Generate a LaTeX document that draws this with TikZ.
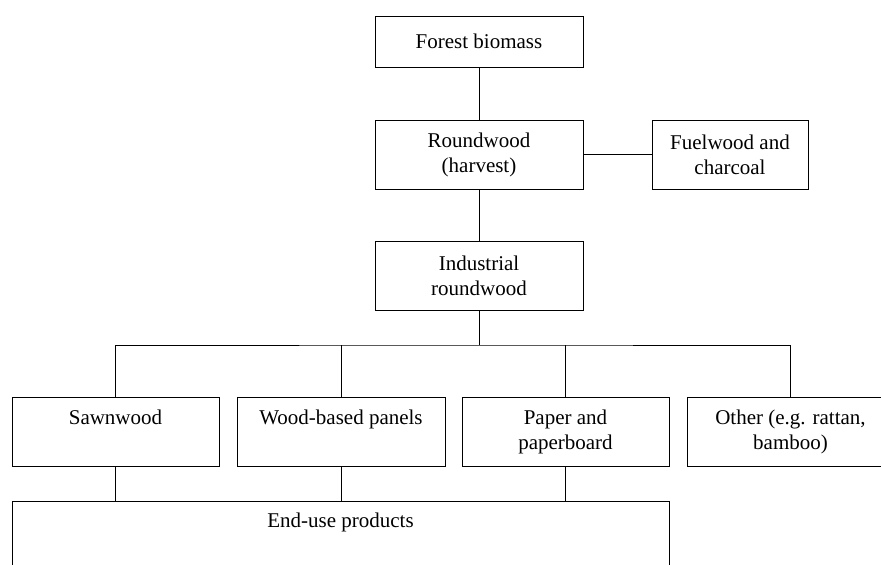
\documentclass[tikz,border=0pt]{standalone}
\usepackage{fontspec}
\setmainfont{Liberation Serif}
\begin{document}
\begin{tikzpicture}[x=1pt,y=-1pt,
  box/.style={draw,line width=1pt,rectangle,inner sep=0pt,minimum width=208pt,minimum height=69pt,align=center,font=\fontsize{21}{25}\selectfont},
  conn/.style={line width=1pt}]
\useasboundingbox (0,0) rectangle (881,565);
\clip (0,0) rectangle (881,565);
\node[box,minimum height=51pt] (fb) at (479,41.5) {Forest biomass};
\node[box] (rw) at (479,154.5) {Roundwood\\(harvest)};
\node[box,minimum width=156pt] (fw) at (730,154.5) {Fuelwood and\\charcoal};
\node[box] (ir) at (479,275.5) {Industrial\\roundwood};
\node[box,minimum width=207pt] (sw) at (115.5,431.5) {Sawnwood\\\vphantom{paperboard}};
\node[box] (wb) at (341,431.5) {Wood-based panels\\\vphantom{paperboard}};
\node[box,minimum width=207pt] (pp) at (565.5,431.5) {Paper and\\paperboard};
\node[box,minimum width=207pt] (ot) at (790.5,431.5) {Other (e.g. rattan,\\bamboo)};
\node[box,minimum width=657pt,minimum height=120pt] (eu) at (340.5,561) {};
\node[anchor=base,font=\fontsize{21}{25}\selectfont,inner sep=0pt] (eut) at (340.5,527) {End-use products};
\coordinate (bus) at (479,345);
\draw[conn] (fb) -- (rw);
\draw[conn] (rw) -- (fw);
\draw[conn] (rw) -- (ir);
\draw[conn] (ir.south) -- (bus);
\draw[conn] (sw.north) |- (bus) -| (ot.north);
\draw[conn] (wb.north) -- (wb.north |- bus);
\draw[conn] (pp.north) -- (pp.north |- bus);
\draw[conn] (sw.south) -- (sw.south |- eu.north);
\draw[conn] (wb.south) -- (wb.south |- eu.north);
\draw[conn] (pp.south) -- (pp.south |- eu.north);
\end{tikzpicture}
\end{document}
